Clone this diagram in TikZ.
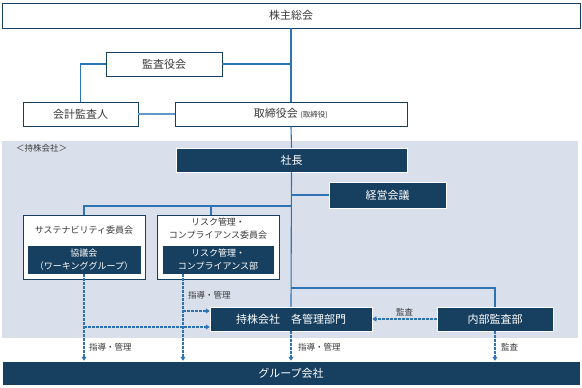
\documentclass[tikz,border=0pt]{standalone}
\usepackage{fontspec}
\setmainfont{Noto Sans CJK JP}
\usetikzlibrary{arrows.meta}
\definecolor{navy}{HTML}{173F5F}
\definecolor{lineblue}{HTML}{2E74B5}
\definecolor{holdgray}{HTML}{D9E0EC}
\definecolor{txtgray}{HTML}{3A3A3A}
\tikzset{
  wbox/.style={draw=navy, line width=0.9pt, fill=white, text=txtgray, inner sep=0pt, font=\fontsize{11}{13}\selectfont},
  nbox/.style={draw=white, line width=0.5pt, fill=navy, text=white, inner sep=0pt, font=\fontsize{11}{13}\selectfont},
  conn/.style={draw=lineblue, line width=1.1pt},
  guide/.style={draw=lineblue, line width=1.1pt, dash pattern=on 2.5pt off 1.5pt, -{Triangle[length=4pt,width=5pt]}},
  note/.style={text=txtgray, inner sep=0pt, font=\fontsize{8.5}{10}\selectfont},
}
\begin{document}
\begin{tikzpicture}[x=1pt, y=-1pt]
    \useasboundingbox (0,0) rectangle (582,388);
    % 持株会社の範囲
    \fill[holdgray] (2,141) rectangle (578,338);
    \node[note, anchor=west] (holdlbl) at (16,148) {＜持株会社＞};
    % 上部の機関
    \node[wbox, minimum width=578pt, minimum height=25pt] (soukai) at (291,15.5) {株主総会};
    \node[wbox, minimum width=116pt, minimum height=24pt] (kansa) at (164,64) {監査役会};
    \node[wbox, minimum width=115pt, minimum height=24pt] (kaikei) at (80.5,114) {会計監査人};
    \node[wbox, minimum width=232pt, minimum height=24pt] (board) at (291,114) {取締役会 {\fontsize{7.5}{9}\selectfont (取締役)}};
    % 持株会社
    \node[nbox, minimum width=231pt, minimum height=24pt] (shacho) at (291.5,160) {社長};
    \node[nbox, minimum width=117pt, minimum height=26pt] (keiei) at (387.5,195) {経営会議};
    % 委員会
    \node[wbox, minimum width=122pt, minimum height=64pt] (sus) at (84,247) {};
    \node[note, font=\fontsize{9}{13}\selectfont] (sustitle) at (84,230) {サステナビリティ委員会};
    \node[nbox, minimum width=114pt, minimum height=29pt, align=center, font=\fontsize{9}{12.5}\selectfont] (kyogi) at (84,259.5) {協議会\\（ワーキンググループ）};
    \node[wbox, minimum width=122pt, minimum height=64pt] (risk) at (218,247) {};
    \node[note, align=center, font=\fontsize{9}{13}\selectfont] (risktitle) at (218,228.5) {リスク管理・\\コンプライアンス委員会};
    \node[nbox, minimum width=112pt, minimum height=29pt, align=center, font=\fontsize{9}{12.5}\selectfont] (riskbu) at (218,259.5) {リスク管理・\\コンプライアンス部};
    % 管理部門と監査
    \node[nbox, minimum width=162pt, minimum height=24pt] (kanri) at (291,319) {持株会社　各管理部門};
    \node[nbox, minimum width=116pt, minimum height=24pt] (naibu) at (495,319) {内部監査部};
    \node[nbox, minimum width=578pt, minimum height=24pt] (group) at (291,373) {グループ会社};
    % 実線の接続
    \draw[conn] (soukai.south) -- (board.north);
    \draw[conn] (kansa.east) -- (kansa.east -| soukai.south);
    \draw[conn] (kansa.west) -| (kaikei.north);
    \draw[conn, lineblue!75] (kaikei.east) -- (board.west);
    \draw[conn] (board.south) -- (shacho.north);
    \draw[conn] (shacho.south) -- (kanri.north);
    \draw[conn] (keiei.west) -- (keiei.west -| shacho.south);
    \coordinate (cbr) at (291,206);
    \coordinate (risktop) at (211,215);
    \draw[conn] (cbr) -| (sus.north);
    \draw[conn] (risktop |- cbr) -- (risktop);
    \coordinate (abr) at (291,288);
    \draw[conn] (abr) -| (naibu.north);
    % 点線の矢印
    \coordinate (riskout) at (183,274);
    \draw[guide] (kyogi.south) -- (kyogi.south |- group.north);
    \draw[guide] (kyogi.south |- 0,327) -- (kanri.west |- 0,327);
    \draw[guide] (riskout) -- (riskout |- group.north);
    \draw[guide] (riskout |- 0,311) -- (kanri.west |- 0,311);
    \draw[guide] (naibu.west) -- (kanri.east);
    \draw[guide] (kanri.south) -- (group.north);
    \draw[guide] (naibu.south) -- (naibu.south |- group.north);
    % ラベル
    \node[note, anchor=west] (lblrisk) at (188,295) {指導・管理};
    \node[note, anchor=west] (lblsus) at (89,347) {指導・管理};
    \node[note, anchor=west] (lblkanri) at (298,347) {指導・管理};
    \node[note, anchor=west] (lblaud) at (501,347) {監査};
    \node[note] (lblnaibu) at (404.5,312) {監査};
\end{tikzpicture}
\end{document}
